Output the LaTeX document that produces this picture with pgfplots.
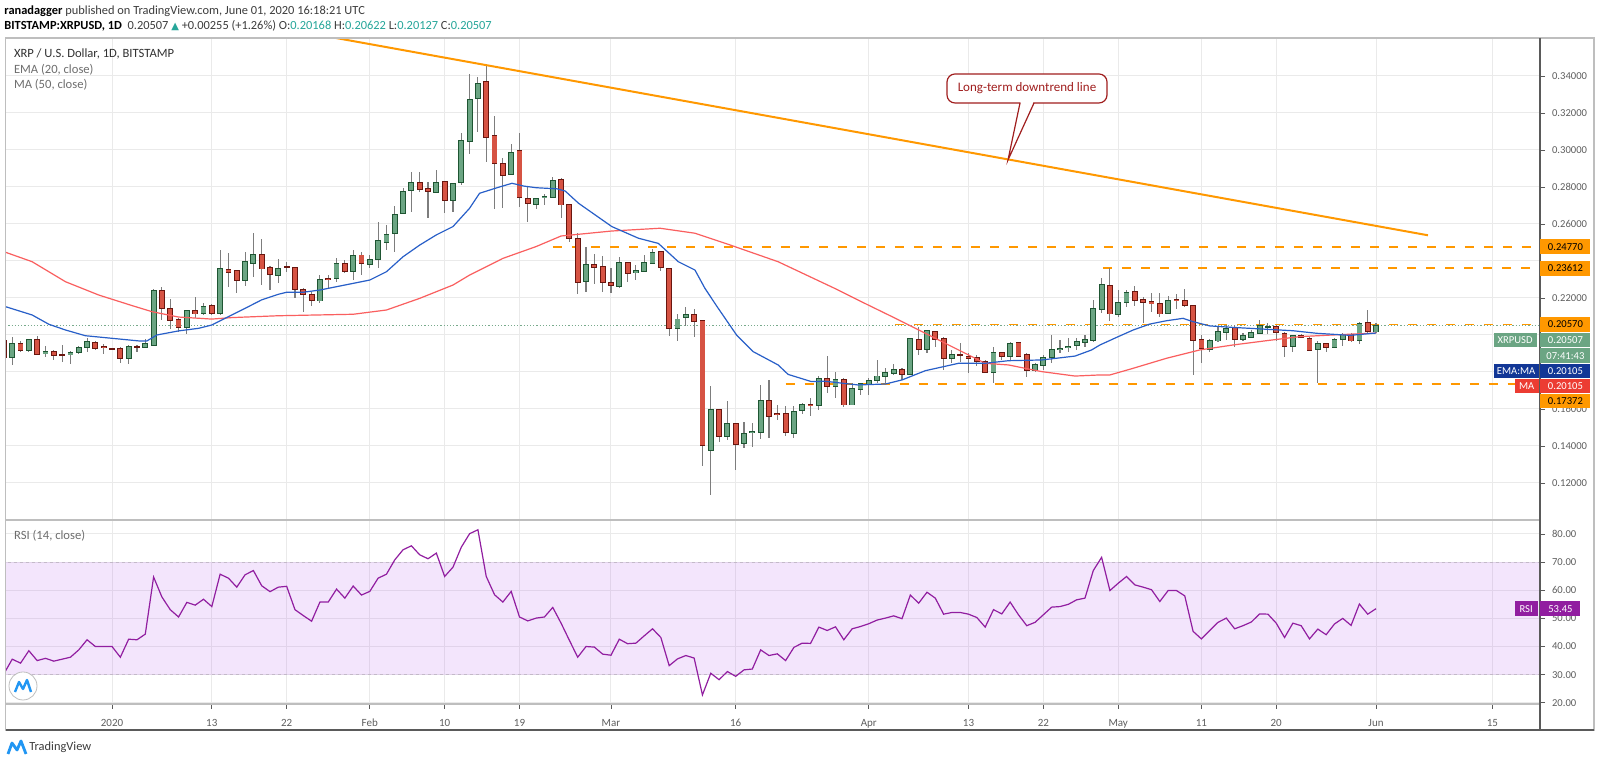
\documentclass[border=0pt]{standalone}
\usepackage{pgfplots}
\pgfplotsset{compat=1.18}
\usepackage{pgfplotstable}
\usepackage{fontspec}
\setmainfont{Carlito}
\newfontfamily\dejavu{DejaVu Sans}

\definecolor{upfill}{RGB}{107,165,131}
\definecolor{upline}{RGB}{30,85,50}
\definecolor{dnfill}{RGB}{214,83,67}
\definecolor{dnline}{RGB}{105,22,15}
\definecolor{wick}{RGB}{125,125,125}
\definecolor{gridc}{RGB}{234,234,234}
\definecolor{emac}{RGB}{40,95,200}
\definecolor{mac}{RGB}{250,95,95}
\definecolor{tvorange}{RGB}{255,152,0}
\definecolor{rsic}{RGB}{145,30,160}
\definecolor{bandc}{RGB}{175,82,235}
\definecolor{tealc}{RGB}{38,166,154}
\definecolor{txt}{RGB}{60,60,60}
\definecolor{ticktxt}{RGB}{95,95,95}
\definecolor{framec}{RGB}{190,190,190}
\definecolor{darkframe}{RGB}{90,90,90}
\definecolor{calloutc}{RGB}{160,30,30}
\definecolor{emabox}{RGB}{18,55,150}
\definecolor{mabox}{RGB}{236,60,50}
\definecolor{pricec}{RGB}{120,170,140}
\definecolor{tvblue}{RGB}{33,150,243}
\definecolor{dashc}{RGB}{195,185,200}

\newcommand\fhead{\fontsize{6.2}{7}\selectfont}
\newcommand\flbl{\fontsize{5.3}{6}\selectfont}
\newcommand\fleg{\fontsize{6.3}{7.5}\selectfont}
\newcommand\ftime{\fontsize{5.5}{6.5}\selectfont}
\newcommand\fcall{\fontsize{6.5}{7.5}\selectfont}

% days counted from 1 Jan 2020: d o h l c
\pgfplotstableread{
d o h l c
-12 0.1879 0.1989 0.1838 0.1951
-10 0.1917 0.1978 0.1910 0.1975
-8 0.1899 0.1942 0.1883 0.1910
-5 0.1894 0.1914 0.1845 0.1903
-4 0.1905 0.1942 0.1896 0.1932
-3 0.1932 0.1986 0.1906 0.1964
2 0.1874 0.1946 0.1843 0.1937
4 0.1935 0.1978 0.1928 0.1953
5 0.1946 0.2249 0.1946 0.2238
9 0.2043 0.2137 0.2004 0.2133
11 0.2119 0.2175 0.2108 0.2155
13 0.2119 0.2459 0.2108 0.2360
16 0.2294 0.2450 0.2265 0.2396
17 0.2387 0.2550 0.2315 0.2436
20 0.2321 0.2411 0.2279 0.2360
25 0.2184 0.2324 0.2171 0.2301
27 0.2306 0.2414 0.2288 0.2387
29 0.2342 0.2459 0.2295 0.2427
31 0.2382 0.2432 0.2360 0.2409
32 0.2411 0.2613 0.2360 0.2510
33 0.2499 0.2595 0.2459 0.2544
34 0.2548 0.2699 0.2447 0.2652
35 0.2658 0.2793 0.2658 0.2775
36 0.2780 0.2879 0.2667 0.2823
39 0.2771 0.2892 0.2766 0.2823
41 0.2726 0.2820 0.2667 0.2818
42 0.2823 0.3094 0.2811 0.3050
43 0.3045 0.3409 0.2977 0.3274
44 0.3279 0.3396 0.3099 0.3360
48 0.2868 0.3031 0.2865 0.2987
51 0.2706 0.2739 0.2681 0.2735
52 0.2742 0.2760 0.2703 0.2750
53 0.2744 0.2852 0.2739 0.2836
57 0.2288 0.2477 0.2234 0.2378
61 0.2261 0.2423 0.2252 0.2393
63 0.2339 0.2378 0.2297 0.2346
64 0.2342 0.2432 0.2339 0.2393
65 0.2386 0.2465 0.2382 0.2447
68 0.2036 0.2112 0.1968 0.2086
69 0.2097 0.2153 0.2047 0.2112
72 0.1377 0.1724 0.1135 0.1598
74 0.1450 0.1643 0.1432 0.1523
76 0.1413 0.1528 0.1391 0.1468
77 0.1472 0.1523 0.1396 0.1477
78 0.1474 0.1730 0.1438 0.1647
82 0.1468 0.1618 0.1445 0.1584
83 0.1591 0.1631 0.1571 0.1625
85 0.1620 0.1780 0.1595 0.1766
87 0.1721 0.1802 0.1658 0.1757
89 0.1622 0.1739 0.1622 0.1712
90 0.1706 0.1739 0.1676 0.1735
91 0.1735 0.1766 0.1676 0.1753
92 0.1753 0.1865 0.1739 0.1778
93 0.1775 0.1820 0.1739 0.1796
94 0.1793 0.1843 0.1784 0.1814
96 0.1789 0.1986 0.1784 0.1982
98 0.1923 0.2027 0.1905 0.2022
101 0.1874 0.1919 0.1847 0.1892
106 0.1798 0.1933 0.1739 0.1905
108 0.1883 0.1964 0.1865 0.1955
111 0.1811 0.1847 0.1802 0.1838
112 0.1834 0.1892 0.1811 0.1879
113 0.1879 0.2000 0.1847 0.1923
114 0.1921 0.1973 0.1901 0.1926
115 0.1931 0.1982 0.1910 0.1937
116 0.1942 0.1982 0.1919 0.1962
117 0.1962 0.2000 0.1937 0.1973
118 0.1973 0.2189 0.1964 0.2144
119 0.2139 0.2310 0.2120 0.2270
121 0.2112 0.2243 0.2099 0.2177
122 0.2177 0.2243 0.2150 0.2231
127 0.2117 0.2211 0.2114 0.2186
132 0.1924 0.1977 0.1910 0.1968
133 0.1968 0.2045 0.1964 0.2018
134 0.2014 0.2054 0.1973 0.2036
136 0.1977 0.2013 0.1969 0.1995
137 0.1987 0.2027 0.1982 0.2013
138 0.2009 0.2081 0.2005 0.2049
139 0.2041 0.2067 0.2005 0.2045
142 0.1937 0.2000 0.1910 0.1995
145 0.1923 0.1969 0.1739 0.1955
147 0.1932 0.1982 0.1932 0.1977
148 0.1977 0.2009 0.1941 0.2000
150 0.1973 0.2072 0.1951 0.2063
152 0.20168 0.20622 0.20127 0.20507
}\upc

\pgfplotstableread{
d o h l c
-13 0.1968 0.1985 0.1872 0.1879
-11 0.1955 0.1968 0.1910 0.1919
-9 0.1975 0.1996 0.1892 0.1897
-7 0.1908 0.1919 0.1865 0.1890
-6 0.1894 0.1946 0.1856 0.1890
-2 0.1960 0.1968 0.1919 0.1928
-1 0.1935 0.1950 0.1896 0.1930
0 0.1928 0.1932 0.1919 0.1924
1 0.1928 0.1937 0.1847 0.1874
3 0.1939 0.1946 0.1910 0.1935
6 0.2238 0.2261 0.2079 0.2144
7 0.2144 0.2193 0.2031 0.2077
8 0.2083 0.2090 0.2018 0.2040
10 0.2133 0.2204 0.2090 0.2114
12 0.2159 0.2166 0.2108 0.2117
14 0.2353 0.2445 0.2261 0.2339
15 0.2346 0.2351 0.2227 0.2295
18 0.2436 0.2519 0.2270 0.2357
19 0.2364 0.2375 0.2243 0.2328
21 0.2368 0.2393 0.2342 0.2364
22 0.2366 0.2369 0.2198 0.2247
23 0.2247 0.2252 0.2126 0.2220
24 0.2220 0.2231 0.2159 0.2186
26 0.2305 0.2324 0.2252 0.2299
28 0.2387 0.2405 0.2333 0.2346
30 0.2432 0.2447 0.2324 0.2387
37 0.2825 0.2883 0.2775 0.2787
38 0.2789 0.2829 0.2634 0.2775
40 0.2827 0.2832 0.2658 0.2726
45 0.3369 0.3463 0.2937 0.3070
46 0.3076 0.3186 0.2681 0.2928
47 0.2924 0.2955 0.2685 0.2865
49 0.2995 0.3090 0.2694 0.2744
50 0.2739 0.2807 0.2609 0.2712
54 0.2838 0.2847 0.2634 0.2703
55 0.2703 0.2706 0.2505 0.2523
56 0.2519 0.2550 0.2222 0.2285
58 0.2378 0.2436 0.2276 0.2366
59 0.2369 0.2429 0.2234 0.2285
60 0.2285 0.2360 0.2225 0.2267
62 0.2393 0.2396 0.2288 0.2333
66 0.2450 0.2454 0.2346 0.2364
67 0.2359 0.2360 0.1996 0.2036
70 0.2112 0.2139 0.1991 0.2072
71 0.2079 0.2079 0.1294 0.1402
73 0.1598 0.1598 0.1423 0.1450
75 0.1523 0.1523 0.1270 0.1409
79 0.1647 0.1757 0.1445 0.1562
80 0.1577 0.1622 0.1540 0.1571
81 0.1577 0.1618 0.1456 0.1474
84 0.1625 0.1658 0.1564 0.1620
86 0.1766 0.1886 0.1688 0.1721
88 0.1757 0.1766 0.1613 0.1622
95 0.1811 0.1820 0.1757 0.1787
97 0.1977 0.2041 0.1892 0.1923
99 0.2020 0.2022 0.1937 0.1977
100 0.1980 0.1987 0.1811 0.1874
102 0.1892 0.1959 0.1856 0.1888
103 0.1883 0.1901 0.1796 0.1874
104 0.1879 0.1892 0.1832 0.1856
105 0.1856 0.1865 0.1796 0.1798
107 0.1905 0.1910 0.1865 0.1883
109 0.1959 0.1962 0.1886 0.1886
110 0.1892 0.1901 0.1771 0.1811
120 0.2265 0.2360 0.2077 0.2114
123 0.2234 0.2265 0.2157 0.2189
124 0.2193 0.2207 0.2067 0.2175
125 0.2180 0.2229 0.2126 0.2171
126 0.2171 0.2225 0.2099 0.2114
128 0.2191 0.2220 0.2139 0.2184
129 0.2184 0.2247 0.2150 0.2159
130 0.2157 0.2162 0.1784 0.1973
131 0.1973 0.2000 0.1847 0.1928
135 0.2041 0.2054 0.1937 0.1977
140 0.2045 0.2054 0.1969 0.2013
141 0.2009 0.2018 0.1883 0.1937
143 0.1998 0.2005 0.1982 0.1986
144 0.1982 0.1991 0.1919 0.1919
146 0.1955 0.1959 0.1910 0.1933
149 0.2000 0.2009 0.1964 0.1968
151 0.2068 0.2135 0.2009 0.2018
}\dnc

\pgfplotstableread{
d v
-12.8 0.2153
-9.6 0.2108
-7.6 0.2058
-5.6 0.2027
-3.2 0.1996
0 0.1982
3.2 0.1968
4.2 0.1968
5.4 0.2000
8 0.2022
10.4 0.2036
12 0.2054
14 0.2099
16 0.2144
18 0.2190
20 0.2220
21 0.2231
23 0.2231
25 0.2243
27 0.2261
31 0.2297
33 0.2342
35 0.2423
37 0.2486
39 0.2541
41 0.2586
43 0.2685
44.2 0.2766
46.3 0.2796
48.1 0.2820
49.5 0.2805
51 0.2796
53.5 0.2790
54.5 0.2778
56.1 0.2712
60.1 0.2586
63.3 0.2523
65.7 0.2495
68.1 0.2396
70.1 0.2351
71.3 0.2252
72.9 0.2144
75.1 0.2000
77.1 0.1910
80.1 0.1838
81.3 0.1787
84.1 0.1748
85.7 0.1750
89.7 0.1730
93 0.1735
95 0.1757
97.8 0.1807
101.8 0.1847
105 0.1847
107.8 0.1861
111.8 0.1865
115.8 0.1886
117.8 0.1919
118.8 0.1946
120.8 0.1987
122.8 0.2027
124.8 0.2059
126.8 0.2077
128.8 0.2090
130 0.2072
132 0.2049
134.8 0.2041
138.8 0.2031
142 0.2023
144.9 0.2009
148.9 0.1998
152 0.20105
}\ema

\pgfplotstableread{
d v
-12.8 0.2447
-9.6 0.2396
-5.6 0.2288
-1.6 0.2216
2.4 0.2159
4.8 0.2126
8 0.2097
12 0.2086
14.4 0.2094
20 0.2104
29 0.2112
33 0.2135
37 0.2198
41 0.2270
43 0.2324
47 0.2414
51 0.2478
54 0.2535
60.1 0.2562
65.9 0.2577
70.1 0.2550
74.1 0.2490
80.1 0.2396
86.9 0.2252
89.7 0.2189
93.8 0.2099
97.8 0.2009
101.8 0.1919
105 0.1847
107.8 0.1838
111.8 0.1802
115.8 0.1778
118.8 0.1784
120 0.1784
122.8 0.1820
126.8 0.1874
130.8 0.1919
134.8 0.1946
138.8 0.1969
142.8 0.1991
146.8 0.2000
152 0.20105
}\mav

\pgfplotstableread{
d v
-13 30.3
-12 35.5
-11 34.1
-10 38.5
-9 35.0
-8 35.8
-7 34.8
-6 35.5
-5 36.2
-4 38.8
-3 42.4
-2 40.0
-1 40.0
0 40.0
1 36.2
2 42.6
3 42.4
4 44.4
5 64.7
6 57.6
7 53.1
8 50.5
9 55.7
10 54.7
11 56.8
12 54.2
13 65.7
14 64.3
15 61.1
16 65.5
17 67.0
18 61.6
19 59.5
20 61.1
21 61.4
22 53.1
23 51.0
24 49.0
25 55.8
26 55.8
27 60.4
28 57.2
29 61.5
30 58.3
31 59.6
32 64.3
33 65.7
34 70.8
35 74.4
36 75.8
37 72.6
38 71.2
39 73.2
40 64.9
41 68.2
42 75.3
43 80.1
44 81.5
45 64.9
46 58.4
47 55.8
48 59.6
49 50.5
50 49.1
51 50.1
52 50.5
53 53.9
54 48.3
55 42.2
56 36.2
57 40.0
58 39.8
59 37.3
60 36.9
61 42.6
62 41.0
63 41.2
64 43.8
65 46.3
66 43.2
67 33.2
68 35.6
69 36.8
70 35.9
71 22.8
72 30.5
73 28.2
74 31.1
75 29.4
76 31.7
77 32.0
78 38.8
79 36.8
80 37.4
81 35.0
82 39.7
83 41.2
84 41.1
85 46.9
86 45.7
87 47.0
88 42.4
89 46.3
90 47.1
91 48.1
92 49.4
93 50.1
94 50.9
95 49.9
96 58.3
97 55.4
98 59.3
99 57.2
100 51.5
101 52.1
102 52.1
103 51.5
104 50.3
105 46.9
106 53.1
107 51.6
108 55.8
109 51.3
110 47.4
111 48.6
112 51.3
113 54.0
114 54.2
115 55.0
116 56.6
117 57.2
118 67.0
119 71.7
120 59.9
121 62.5
122 64.9
123 61.9
124 61.1
125 60.2
126 56.0
127 59.9
128 59.9
129 58.0
130 45.4
131 42.7
132 45.7
133 48.6
134 50.1
135 46.3
136 47.4
137 48.7
138 51.6
139 51.5
140 48.3
141 43.2
142 48.3
143 47.4
144 42.7
145 46.2
146 44.2
147 48.0
148 50.0
149 47.5
150 55.1
151 51.5
152 53.45
}\rsi

\pgfplotsset{
  wickstyle/.style={draw=none, mark=none, forget plot,
    error bars/.cd, y dir=both, y explicit, error mark=none,
    error bar style={draw=wick, line width=0.55pt, solid}},
  bodystyle/.style 2 args={draw=none, mark=none, forget plot,
    error bars/.cd, y dir=both, y explicit, error mark=none,
    error bar style={draw=#1, line width=#2, solid}},
  tvaxis/.style={
    scale only axis, anchor=south west, width=767pt,
    xmin=-12.75, xmax=171.72,
    xtick={0,12,21,31,40,49,60,75,91,103,112,121,131,140,152,166},
    axis line style={draw=none},
    grid=major, major grid style={draw=gridc, line width=0.5pt},
    tick align=outside, major tick length=2.5pt,
    tick style={draw=darkframe, line width=0.4pt},
    ytick pos=right,
    yticklabel style={font=\flbl, text=ticktxt, anchor=west},
  },
}

\begin{document}
\begin{tikzpicture}
\path[use as bounding box, fill=white] (0,0) rectangle (800pt,381.5pt);

% ---------------- price panel ----------------
\begin{axis}[tvaxis,
  at={(3pt,121.5pt)}, height=241pt,
  ymin=0.1000, ymax=0.36054,
  ytick={0.12,0.14,0.16,0.18,0.20,0.22,0.24,0.26,0.28,0.30,0.32,0.34},
  yticklabels={0.12000,0.14000,0.16000,,,0.22000,,0.26000,0.28000,0.30000,0.32000,0.34000},
  xtick pos=bottom, xticklabel=\empty, x tick style={draw=none},
]
% horizontal levels
\addplot[tvorange, line width=0.9pt, dash pattern=on 4.5pt off 5pt, forget plot] coordinates {(53,0.2477) (172,0.2477)};
\addplot[tvorange, line width=0.9pt, dash pattern=on 4.5pt off 5pt, forget plot] coordinates {(119.2,0.23612) (172,0.23612)};
\addplot[tvorange, line width=0.9pt, dash pattern=on 4.5pt off 5pt, forget plot] coordinates {(94.2,0.2057) (172,0.2057)};
\addplot[tvorange, line width=0.9pt, dash pattern=on 4.5pt off 5pt, forget plot] coordinates {(81,0.17372) (172,0.17372)};
\addplot[pricec, line width=0.5pt, dash pattern=on 0.6pt off 1pt, forget plot] coordinates {(-14,0.20507) (172,0.20507)};
% candles
\addplot[wickstyle] table[x=d, y expr={(\thisrow{h}+\thisrow{l})/2}, y error expr={(\thisrow{h}-\thisrow{l})/2}] {\upc};
\addplot[wickstyle] table[x=d, y expr={(\thisrow{h}+\thisrow{l})/2}, y error expr={(\thisrow{h}-\thisrow{l})/2}] {\dnc};
\addplot[bodystyle={upline}{2.9pt}] table[x=d, y expr={(\thisrow{o}+\thisrow{c})/2}, y error expr={abs(\thisrow{c}-\thisrow{o})/2+0.0003}] {\upc};
\addplot[bodystyle={upfill}{2.1pt}] table[x=d, y expr={(\thisrow{o}+\thisrow{c})/2}, y error expr={max(abs(\thisrow{c}-\thisrow{o})/2-0.0002,0)}] {\upc};
\addplot[bodystyle={dnline}{2.9pt}] table[x=d, y expr={(\thisrow{o}+\thisrow{c})/2}, y error expr={abs(\thisrow{c}-\thisrow{o})/2+0.0003}] {\dnc};
\addplot[bodystyle={dnfill}{2.1pt}] table[x=d, y expr={(\thisrow{o}+\thisrow{c})/2}, y error expr={max(abs(\thisrow{c}-\thisrow{o})/2-0.0002,0)}] {\dnc};
% moving averages
\addplot[mac, line width=0.6pt, mark=none] table[x=d, y=v] {\mav};
\addplot[emac, line width=0.6pt, mark=none] table[x=d, y=v] {\ema};
% long-term downtrend line
\addplot[tvorange, line width=1pt, mark=none] coordinates {(20,0.36616) (158.25,0.25389)};
\end{axis}

% ---------------- RSI panel ----------------
\begin{axis}[tvaxis,
  at={(3pt,29.5pt)}, height=92pt,
  ymin=19.57, ymax=84.98,
  ytick={20,30,40,50,60,70,80},
  yticklabels={20.00,30.00,40.00,50.00,60.00,70.00,80.00},
  xtick pos=bottom,
  xticklabels={2020,13,22,Feb,10,19,Mar,16,Apr,13,22,May,11,20,Jun,15},
  xticklabel style={font=\ftime, text=ticktxt, yshift=-1.5pt},
]
\fill[bandc, fill opacity=0.15] (axis cs:-14,30) rectangle (axis cs:172,70);
\addplot[dashc, line width=0.5pt, dash pattern=on 1.5pt off 1.5pt, forget plot] coordinates {(-14,70) (172,70)};
\addplot[dashc, line width=0.5pt, dash pattern=on 1.5pt off 1.5pt, forget plot] coordinates {(-14,30) (172,30)};
\addplot[rsic, line width=0.6pt, mark=none] table[x=d, y=v] {\rsi};
\end{axis}

% ---------------- decorations in pixel coordinates ----------------
\begin{scope}[x=0.5pt, y=-0.5pt, shift={(0,381.5pt)}]
% frame
\draw[framec, line width=0.6pt] (5.5,38) rectangle (1594,730);
\draw[framec, line width=0.8pt] (5.5,520) -- (1540,520);
\draw[framec, line width=0.8pt] (5.5,704) -- (1540,704);
\draw[darkframe, line width=0.6pt] (5.5,730) -- (1594,730);
\draw[darkframe, line width=0.6pt] (1540,38) -- (1540,730);

% header
\node[anchor=base west, inner sep=0pt, font=\fhead, text=txt] at (4,15)
  {\textbf{\color{black}ranadagger} published on TradingView.com, June 01, 2020 16:18:21 UTC};
\node[anchor=base west, inner sep=0pt, font=\fhead, text=txt] at (4,30)
  {\textbf{\color{black}BITSTAMP:XRPUSD, 1D}\ \ 0.20507 {\color{tealc}\dejavu\fontsize{5}{6}\selectfont ▲} +0.00255 (+1.26\%) O:{\color{tealc}0.20168} H:{\color{tealc}0.20622} L:{\color{tealc}0.20127} C:{\color{tealc}0.20507}};

% legend
\node[anchor=base west, inner sep=0pt, font=\fleg, text={rgb,255:red,50;green,50;blue,50}] at (13.6,57.5) {XRP / U.S. Dollar, 1D, BITSTAMP};
\node[anchor=base west, inner sep=0pt, font=\fleg, text={rgb,255:red,110;green,110;blue,110}] at (13.6,73.5) {EMA (20, close)};
\node[anchor=base west, inner sep=0pt, font=\fleg, text={rgb,255:red,110;green,110;blue,110}] at (13.6,88.5) {MA (50, close)};
\node[anchor=base west, inner sep=0pt, font=\fleg, text={rgb,255:red,110;green,110;blue,110}] at (13.8,540) {RSI (14, close)};

% callout
\draw[calloutc, fill=white, line width=0.6pt, rounded corners=4pt] (947,74) rectangle (1107,103);
\fill[white] (1020.6,102) -- (1008,160) -- (1033.4,102) -- cycle;
\draw[calloutc, line width=0.6pt] (1020,103) -- (1008,160) -- (1034,103);
\node[font=\fcall, text=calloutc, inner sep=0pt] at (1027,88.5) {Long-term downtrend line};

% price scale labels
\tikzset{plab/.style={minimum width=25pt, minimum height=7.3pt, inner sep=0pt, font=\flbl, anchor=west}}
\node[plab, fill=tvorange, text=black] at (1540,246.7) {0.24770};
\node[plab, fill=tvorange, text=black] at (1540,268.3) {0.23612};
\node[plab, fill=tvorange, text=black] at (1540,324.3) {0.20570};
\node[plab, fill=upfill, text=white] at (1540,340) {0.20507};
\node[plab, fill=upfill, text=white, minimum width=21.5pt, anchor=east] at (1537,340) {XRPUSD};
\node[plab, fill=upfill, text=white] at (1540,355.7) {07:41:43};
\node[plab, fill=emabox, text=white] at (1540,371) {0.20105};
\node[plab, fill=emabox, text=white, minimum width=22.5pt, anchor=east] at (1539,371) {EMA:MA};
\node[plab, fill=mabox, text=white] at (1540,386) {0.20105};
\node[plab, fill=mabox, text=white, minimum width=12pt, anchor=east] at (1539,386) {MA};
\node[plab, fill=tvorange, text=black] at (1540,401) {0.17372};
\node[plab, fill=rsic, text=white, minimum width=20pt] at (1540,608.7) {53.45};
\node[plab, fill=rsic, text=white, minimum width=11.5pt, anchor=east] at (1538,608.7) {RSI};

% watermark and logo
\draw[framec, fill=white, line width=0.4pt] (23,686) circle (14);
\draw[tvblue, line width=1.2pt, line join=round] (15,692) -- (19,682) -- (23,689) -- (27,680) -- (31,692);
\draw[tvblue, line width=1.4pt, line join=round] (8,754) -- (12,743) -- (17,750) -- (21,741) -- (26,754);
\node[anchor=base west, inner sep=0pt, font=\fhead, text={rgb,255:red,60;green,60;blue,60}] at (29,751) {TradingView};
\end{scope}
\end{tikzpicture}
\end{document}
